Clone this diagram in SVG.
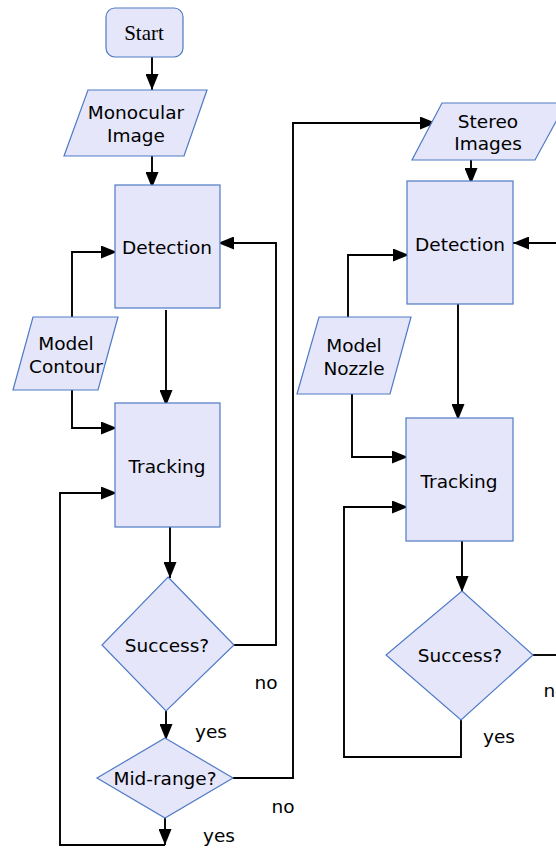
<svg xmlns="http://www.w3.org/2000/svg" width="556" height="849" viewBox="0 0 556 849">
<defs>
<style>
.n{fill:#e5e6fa;stroke:#4f7ac6;stroke-width:1.2}
.t{font-family:"DejaVu Sans",sans-serif;font-size:18.5px;fill:#000;text-anchor:middle}
.s{font-family:"Liberation Serif",serif;font-size:21px;fill:#000;text-anchor:middle}
.c{fill:none;stroke:#000;stroke-width:1.9}
</style>
<marker id="a" markerUnits="userSpaceOnUse" markerWidth="16" markerHeight="13" refX="16" refY="6.5" orient="auto">
<path d="M0,0 L16,6.5 L0,13 Z" fill="#000"/>
</marker>
</defs>
<rect width="556" height="849" fill="#fff"/>
<g id="connectors">
<path class="c" d="M152,57 V90" marker-end="url(#a)"/>
<path class="c" d="M152,156 V188" marker-end="url(#a)"/>
<path class="c" d="M72,317 V252 H117" marker-end="url(#a)"/>
<path class="c" d="M72,390 V428 H117" marker-end="url(#a)"/>
<path class="c" d="M166,310 V406" marker-end="url(#a)"/>
<path class="c" d="M170,527 V578" marker-end="url(#a)"/>
<path class="c" d="M233,645 H276 V243 H218" marker-end="url(#a)"/>
<path class="c" d="M166,711 V740" marker-end="url(#a)"/>
<path class="c" d="M233,778 H293 V123 H436" marker-end="url(#a)"/>
<path class="c" d="M165,818 V845" marker-end="url(#a)"/>
<path class="c" d="M165,845 H60 V493 H117" marker-end="url(#a)"/>
<path class="c" d="M471,160 V184" marker-end="url(#a)"/>
<path class="c" d="M556,243 H513" marker-end="url(#a)"/>
<path class="c" d="M348,317 V255 H409" marker-end="url(#a)"/>
<path class="c" d="M352,394 V457 H408" marker-end="url(#a)"/>
<path class="c" d="M458,304 V420" marker-end="url(#a)"/>
<path class="c" d="M462,535 V592" marker-end="url(#a)"/>
<path class="c" d="M533,655 H556"/>
<path class="c" d="M461,720 V757 H344 V507 H408" marker-end="url(#a)"/>
</g>
<g id="start">
<rect class="n" x="106" y="8" width="77" height="49" rx="9"/>
<text class="s" x="144" y="40">Start</text>
</g>
<g id="monocular">
<polygon class="n" points="88,90 207,90 184,156 64,156"/>
<text class="t" x="136" y="119">Monocular</text>
<text class="t" x="136" y="142">Image</text>
</g>
<g id="detection1">
<rect class="n" x="115" y="185" width="105" height="123"/>
<text class="t" x="167" y="254">Detection</text>
</g>
<g id="contour">
<polygon class="n" points="33,317 118,317 98,390 13,390"/>
<text class="t" x="66" y="350">Model</text>
<text class="t" x="66" y="373">Contour</text>
</g>
<g id="tracking1">
<rect class="n" x="115" y="403" width="105" height="124"/>
<text class="t" x="167" y="473">Tracking</text>
</g>
<g id="success1">
<polygon class="n" points="168,577 234,645 166,711 102,645"/>
<text class="t" x="167" y="652">Success?</text>
</g>
<g id="midrange">
<polygon class="n" points="165,738 233,778 165,818 97,778"/>
<text class="t" x="165" y="785">Mid-range?</text>
</g>
<g id="stereo">
<polygon class="n" points="442,103 566,103 535,160 412,160"/>
<text class="t" x="488" y="128">Stereo</text>
<text class="t" x="488" y="150">Images</text>
</g>
<g id="detection2">
<rect class="n" x="407" y="181" width="106" height="123"/>
<text class="t" x="460" y="251">Detection</text>
</g>
<g id="nozzle">
<polygon class="n" points="319,317 411,317 390,394 297,394"/>
<text class="t" x="354" y="352">Model</text>
<text class="t" x="354" y="375">Nozzle</text>
</g>
<g id="tracking2">
<rect class="n" x="406" y="418" width="107" height="123"/>
<text class="t" x="459" y="488">Tracking</text>
</g>
<g id="success2">
<polygon class="n" points="462,591 533,655 461,720 386,655"/>
<text class="t" x="460" y="662">Success?</text>
</g>
<g id="labels">
<text class="t" x="266" y="689">no</text>
<text class="t" x="211" y="738">yes</text>
<text class="t" x="283" y="813">no</text>
<text class="t" x="219" y="842">yes</text>
<text class="t" x="499" y="743">yes</text>
<text class="t" x="555" y="697">no</text>
</g>
</svg>
